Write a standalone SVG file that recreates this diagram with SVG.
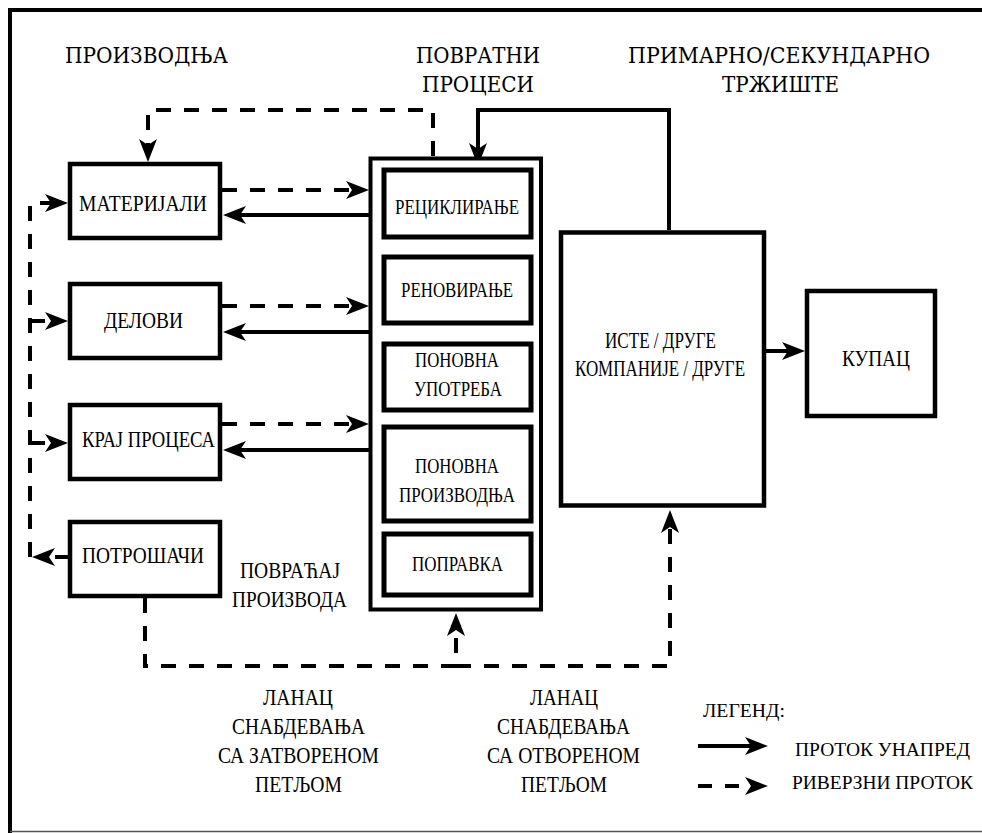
<svg xmlns="http://www.w3.org/2000/svg" width="982" height="833" viewBox="0 0 982 833" font-family="'Liberation Serif', 'DejaVu Serif', serif">
<style>
text{fill:#000;text-anchor:middle}
.t{font-size:23px}
.b{font-size:23px}
.m{font-size:21px}
.lg{font-size:19px;text-anchor:start}
.box{fill:#fff;stroke:#000;stroke-width:4.5}
.ibox{fill:#fff;stroke:#000;stroke-width:5}
.s{fill:none;stroke:#000;stroke-width:4}
.d{fill:none;stroke:#000;stroke-width:4;stroke-dasharray:15 13}
</style>
<defs>
<marker id="ah" markerUnits="userSpaceOnUse" markerWidth="24" markerHeight="20" viewBox="0 0 24 20" refX="15" refY="10" orient="auto">
<path d="M0,1 L23,10 L0,19 L6,10 Z" fill="#000"/>
</marker>
</defs>
<rect width="982" height="833" fill="#fff"/>
<g id="frame">
<path d="M10,833 V10 H985" fill="none" stroke="#000" stroke-width="4"/>
<path d="M10,831.5 H982" fill="none" stroke="#555" stroke-width="1.5"/>
</g>
<g id="headers" font-family="'DejaVu Serif', serif">
<text class="t" x="146.5" y="63" textLength="163" lengthAdjust="spacingAndGlyphs">ПРОИЗВОДЊА</text>
<text class="t" x="478" y="63" textLength="124" lengthAdjust="spacingAndGlyphs">ПОВРАТНИ</text>
<text class="t" x="478" y="92" textLength="112" lengthAdjust="spacingAndGlyphs">ПРОЦЕСИ</text>
<text class="t" x="779" y="63" textLength="302" lengthAdjust="spacingAndGlyphs">ПРИМАРНО/СЕКУНДАРНО</text>
<text class="t" x="780.5" y="92" textLength="117" lengthAdjust="spacingAndGlyphs">ТРЖИШТЕ</text>
</g>
<g id="connectors">
<path class="d" d="M222,190 H361" marker-end="url(#ah)"/>
<path class="s" d="M370,215 H231" marker-end="url(#ah)"/>
<path class="d" d="M222,306 H361" marker-end="url(#ah)"/>
<path class="s" d="M370,332 H231" marker-end="url(#ah)"/>
<path class="d" d="M222,424 H361" marker-end="url(#ah)"/>
<path class="s" d="M370,450 H231" marker-end="url(#ah)"/>
<path class="d" d="M30,557 V203 H60" marker-end="url(#ah)"/>
<path class="d" d="M30,321 H60" marker-end="url(#ah)"/>
<path class="d" d="M30,443 H60" marker-end="url(#ah)"/>
<path class="d" d="M70,557 H40" marker-end="url(#ah)"/>
<path class="d" d="M433,156 V110 H148 V154" marker-end="url(#ah)"/>
<path class="s" d="M669,230 V110 H478 V158" marker-end="url(#ah)"/>
<path class="s" d="M766,351 H797" marker-end="url(#ah)"/>
<path class="d" d="M145,598 V666 H456 V621" marker-end="url(#ah)"/>
<path class="d" d="M456,666 H670 V518" marker-end="url(#ah)"/>
</g>
<g id="materijali"><rect class="box" x="70" y="164" width="150" height="74"/><text class="b" x="143" y="211" textLength="128" lengthAdjust="spacingAndGlyphs">МАТЕРИЈАЛИ</text></g>
<g id="delovi"><rect class="box" x="70" y="284" width="150" height="74"/><text class="b" x="143.5" y="328" textLength="79" lengthAdjust="spacingAndGlyphs">ДЕЛОВИ</text></g>
<g id="kraj"><rect class="box" x="70" y="405" width="150" height="74"/><text class="b" x="148.5" y="447" textLength="133" lengthAdjust="spacingAndGlyphs">КРАЈ ПРОЦЕСА</text></g>
<g id="potrosaci"><rect class="box" x="70" y="522" width="150" height="74"/><text class="b" x="143" y="563" textLength="122" lengthAdjust="spacingAndGlyphs">ПОТРОШАЧИ</text></g>
<g id="povratni">
<rect fill="#fff" stroke="#000" stroke-width="4" x="370.5" y="158.5" width="170.5" height="451"/>
</g>
<g id="reciklirane"><rect class="ibox" x="384" y="170" width="147" height="67"/><text class="m" x="457" y="214" textLength="124" lengthAdjust="spacingAndGlyphs">РЕЦИКЛИРАЊЕ</text></g>
<g id="renoviranje"><rect class="ibox" x="384" y="257" width="147" height="66"/><text class="m" x="457" y="297" textLength="112" lengthAdjust="spacingAndGlyphs">РЕНОВИРАЊЕ</text></g>
<g id="upotreba"><rect class="ibox" x="384" y="344" width="147" height="66"/><text class="m" x="457" y="367" textLength="84" lengthAdjust="spacingAndGlyphs">ПОНОВНА</text><text class="m" x="458" y="396" textLength="88" lengthAdjust="spacingAndGlyphs">УПОТРЕБА</text></g>
<g id="proizvodnja"><rect class="ibox" x="384" y="427" width="147" height="94"/><text class="m" x="457" y="473" textLength="84" lengthAdjust="spacingAndGlyphs">ПОНОВНА</text><text class="m" x="457" y="502" textLength="116" lengthAdjust="spacingAndGlyphs">ПРОИЗВОДЊА</text></g>
<g id="popravka"><rect class="ibox" x="384" y="534" width="147" height="61"/><text class="m" x="457.5" y="571" textLength="91" lengthAdjust="spacingAndGlyphs">ПОПРАВКА</text></g>
<g id="kompanije"><rect class="box" x="561" y="232.5" width="203" height="273"/><text class="b" x="660.5" y="348" textLength="111" lengthAdjust="spacingAndGlyphs">ИСТЕ / ДРУГЕ</text><text class="b" x="660" y="376" textLength="170" lengthAdjust="spacingAndGlyphs">КОМПАНИЈЕ / ДРУГЕ</text></g>
<g id="kupac"><rect class="box" x="807" y="291" width="128" height="125"/><text class="b" x="876" y="366" textLength="68" lengthAdjust="spacingAndGlyphs">КУПАЦ</text></g>
<g id="labels">
<text class="t" x="290" y="578" textLength="100" lengthAdjust="spacingAndGlyphs">ПОВРАЋАЈ</text>
<text class="t" x="289.5" y="607" textLength="115" lengthAdjust="spacingAndGlyphs">ПРОИЗВОДА</text>
<text class="t" x="298" y="705" textLength="70" lengthAdjust="spacingAndGlyphs">ЛАНАЦ</text>
<text class="t" x="298.5" y="734" textLength="133" lengthAdjust="spacingAndGlyphs">СНАБДЕВАЊА</text>
<text class="t" x="298.5" y="763" textLength="161" lengthAdjust="spacingAndGlyphs">СА ЗАТВОРЕНОМ</text>
<text class="t" x="298.5" y="792" textLength="87" lengthAdjust="spacingAndGlyphs">ПЕТЉОМ</text>
<text class="t" x="564" y="705" textLength="68" lengthAdjust="spacingAndGlyphs">ЛАНАЦ</text>
<text class="t" x="563.5" y="734" textLength="133" lengthAdjust="spacingAndGlyphs">СНАБДЕВАЊА</text>
<text class="t" x="563.5" y="763" textLength="153" lengthAdjust="spacingAndGlyphs">СА ОТВОРЕНОМ</text>
<text class="t" x="564" y="792" textLength="86" lengthAdjust="spacingAndGlyphs">ПЕТЉОМ</text>
</g>
<g id="legend">
<text class="lg" x="703" y="717" textLength="82" lengthAdjust="spacingAndGlyphs">ЛЕГЕНД:</text>
<path class="s" d="M698,746 H760" marker-end="url(#ah)"/>
<path class="d" d="M698,786 H760" style="stroke-dasharray:14 13" marker-end="url(#ah)"/>
<text class="lg" x="795" y="756" textLength="175" lengthAdjust="spacingAndGlyphs">ПРОТОК УНАПРЕД</text>
<text class="lg" x="792" y="789" textLength="181" lengthAdjust="spacingAndGlyphs">РИВЕРЗНИ ПРОТОК</text>
</g>
</svg>
